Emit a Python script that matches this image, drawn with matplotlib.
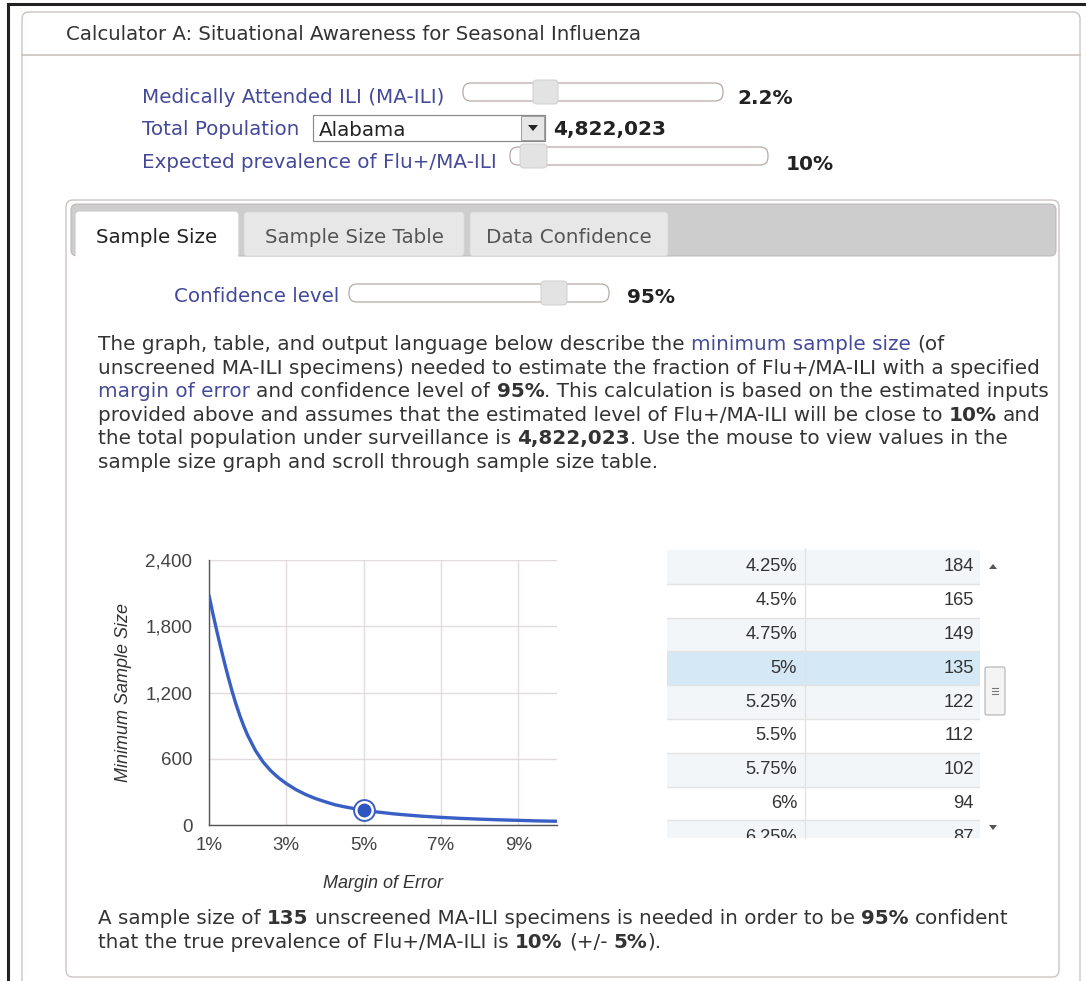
import matplotlib
matplotlib.use("Agg")
import matplotlib.pyplot as plt
from matplotlib.patches import FancyBboxPatch, Rectangle, Polygon
from matplotlib import ticker

# ---- data ----
margin_pct = [1.0, 1.1, 1.2, 1.3, 1.4, 1.5, 1.6, 1.7, 1.8, 1.9, 2.0, 2.2,
              2.4, 2.6, 2.8, 3.0, 3.25, 3.5, 3.75, 4.0, 4.25, 4.5, 4.75, 5.0,
              5.25, 5.5, 5.75, 6.0, 6.25, 6.5, 7.0, 7.5, 8.0, 8.5, 9.0, 9.5, 10.0]
min_sample = [2080, 1915, 1760, 1612, 1470, 1335, 1208, 1092, 988, 895, 812, 675,
              570, 490, 427, 375, 320, 276, 240, 211, 184, 165, 149, 135,
              122, 112, 102, 94, 87, 80, 69, 60, 53, 47, 42, 37, 34]
x_ticks = [1, 3, 5, 7, 9]
y_ticks = [0, 600, 1200, 1800, 2400]
chosen_margin = 5
chosen_size = 135

table_margin = ["4.25%", "4.5%", "4.75%", "5%", "5.25%", "5.5%", "5.75%", "6%", "6.25%"]
table_size = ["184", "165", "149", "135", "122", "112", "102", "94", "87"]
highlight_row = "5%"

tabs = ["Sample Size", "Sample Size Table", "Data Confidence"]

W, H = 1086, 981
fig = plt.figure(figsize=(W / 100, H / 100), dpi=100)
ui = fig.add_axes([0, 0, 1, 1])
ui.set_xlim(0, W)
ui.set_ylim(H, 0)
ui.axis("off")
rend = fig.canvas.get_renderer()

UI_FONT = "DejaVu Sans"
TXT = "#333333"
BLUE = "#44499a"
PX = 0.72  # points per pixel
FS = 14.3   # ui text size
FV = 14.5   # bold values


def rbox(x0, y0, x1, y1, fc, ec, r=6, lw=1.0, z=1):
    p = FancyBboxPatch((x0, y0), x1 - x0, y1 - y0,
                       boxstyle=f"round,pad=0,rounding_size={r}",
                       fc=fc, ec=ec, lw=lw * PX, zorder=z)
    ui.add_patch(p)
    return p


def width_of(s, size, weight="normal", family=UI_FONT):
    t = ui.text(0, 0, s, fontsize=size, fontweight=weight, family=family)
    w = t.get_window_extent(rend).width
    t.remove()
    return w


def runs(x, y, parts, size=FS, family=UI_FONT):
    # parts: (text, color, weight); y is the baseline
    sp = width_of("x x", size) - width_of("xx", size)
    for s, c, wgt in parts:
        if s.startswith(" "):
            x += sp
        core = s.strip()
        if core:
            t = ui.text(x, y, core, fontsize=size, color=c, fontweight=wgt,
                        family=family, va="baseline", zorder=5)
            x += t.get_window_extent(rend).width
        if s.endswith(" ") and len(s) > 1:
            x += sp
    return x


def slider(x0, x1, yc, hx, hw=25):
    rbox(x0, yc - 9, x1, yc + 9, "white", "#b3a7a3", r=8, lw=1.2, z=2)
    rbox(hx, yc - 12, hx + hw, yc + 12, "#e3e3e3", "#d0d0d0", r=4, lw=1, z=3)


# ---- frame and outer panel ----
ui.plot([8, W], [4, 4], color="#222222", lw=2.2, zorder=6)
ui.plot([8, 8], [4, H], color="#222222", lw=2.2, zorder=6)
rbox(22, 12, 1080, H + 20, "white", "#c9c1bd", r=7, lw=1.3)
ui.plot([22, 1080], [55, 55], color="#c9c1bd", lw=1.2)
runs(66, 40, [("Calculator A: Situational Awareness for Seasonal Influenza", TXT, "normal")], size=14.2)

# ---- inputs ----
runs(142, 103, [("Medically Attended ILI (MA-ILI)", BLUE, "normal")])
slider(463, 723, 92, 533)
runs(737, 104, [("2.2%", "#222222", "bold")], size=FV)

runs(142, 135, [("Total Population", BLUE, "normal")])
ui.add_patch(Rectangle((313, 115), 232, 26, fc="white", ec="#8a8a8a", lw=1.2 * PX, zorder=2))
ui.add_patch(Rectangle((521, 116), 23, 24, fc="#e6e6e6", ec="#a0a0a0", lw=1 * PX, zorder=3))
ui.add_patch(Polygon([[528, 125], [538, 125], [533, 131]], closed=True, fc="#222222", ec="none", zorder=4))
runs(319, 136, [("Alabama", "#222222", "normal")])
runs(553, 135, [("4,822,023", "#222222", "bold")], size=FV)

runs(142, 168, [("Expected prevalence of Flu+/MA-ILI", BLUE, "normal")])
slider(510, 768, 156, 520, 27)
runs(786, 170, [("10%", "#222222", "bold")], size=FV)

# ---- inner tab panel ----
rbox(66, 200, 1059, 977, "white", "#c9c1bd", r=7, lw=1.3)
rbox(71, 204, 1056, 256, "#cdcdcd", "#b8b8b8", r=6, lw=1.0, z=2)
tab_x = [(76, 238), (244, 464), (470, 668)]
for i, (label, (a, b)) in enumerate(zip(tabs, tab_x)):
    fc = "white" if i == 0 else "#e7e7e7"
    y1 = 262 if i == 0 else 256
    rbox(a, 212, b, y1, fc, "#d8d8d8" if i else "white", r=3, lw=0.8, z=3)
    ui.text((a + b) / 2, 243, label, fontsize=FS, family=UI_FONT, ha="center",
            va="baseline", color="#222222" if i == 0 else "#555555", zorder=5)

runs(174, 302, [("Confidence level", BLUE, "normal")])
slider(349, 609, 293, 541, 26)
runs(627, 303, [("95%", "#222222", "bold")], size=FV)

# ---- paragraph ----
para = [
    [("The graph, table, and output language below describe the ", TXT, "normal"),
     ("minimum sample size", BLUE, "normal"), (" (of", TXT, "normal")],
    [("unscreened MA-ILI specimens) needed to estimate the fraction of Flu+/MA-ILI with a specified", TXT, "normal")],
    [("margin of error", BLUE, "normal"), (" and confidence level of ", TXT, "normal"),
     ("95%", TXT, "bold"), (". This calculation is based on the estimated inputs", TXT, "normal")],
    [("provided above and assumes that the estimated level of Flu+/MA-ILI will be close to ", TXT, "normal"),
     ("10%", TXT, "bold"), (" and", TXT, "normal")],
    [("the total population under surveillance is ", TXT, "normal"), ("4,822,023", TXT, "bold"),
     (". Use the mouse to view values in the", TXT, "normal")],
    [("sample size graph and scroll through sample size table.", TXT, "normal")],
]
for k, line in enumerate(para):
    runs(98, 350 + k * 23.6, line, size=14.45)

summary = [
    [("A sample size of ", TXT, "normal"), ("135", TXT, "bold"),
     (" unscreened MA-ILI specimens is needed in order to be ", TXT, "normal"),
     ("95%", TXT, "bold"), (" confident", TXT, "normal")],
    [("that the true prevalence of Flu+/MA-ILI is ", TXT, "normal"), ("10%", TXT, "bold"),
     (" (+/- ", TXT, "normal"), ("5%", TXT, "bold"), (").", TXT, "normal")],
]
for k, line in enumerate(summary):
    runs(98, 924 + k * 24, line, size=14.3)

# ---- table ----
tx0, tx1, tdiv, ty0, rh = 667, 980, 805, 550, 33.8
clip = Rectangle((tx0, 548), tx1 - tx0, 290, transform=ui.transData)
for i, (m, n) in enumerate(zip(table_margin, table_size)):
    y0 = ty0 + i * rh
    fc = "#d4e8f6" if m == highlight_row else ("#f2f6f9" if i % 2 == 0 else "white")
    r = Rectangle((tx0, y0), tx1 - tx0, rh, fc=fc, ec="none", zorder=2)
    ui.add_patch(r)
    r.set_clip_path(clip)
    ln, = ui.plot([tx0, tx1], [y0 + rh, y0 + rh], color="#e3e3e3", lw=1.0, zorder=3)
    ln.set_clip_path(clip)
    for s, xr in ((m, 797), (n, 974)):
        t = ui.text(xr, y0 + rh / 2, s, fontsize=13.2, family="Liberation Sans", ha="right",
                    va="center", color="#333333", zorder=5, clip_on=True)
        t.set_clip_path(clip)
ui.plot([tdiv, tdiv], [548, 838], color="#e3e3e3", lw=1.0, zorder=3)
# scrollbar
ui.add_patch(Polygon([[989, 569], [997, 569], [993, 564]], closed=True, fc="#555555", ec="none", zorder=4))
ui.add_patch(Polygon([[989, 825], [997, 825], [993, 830]], closed=True, fc="#555555", ec="none", zorder=4))
rbox(985, 667, 1005, 715, "#f4f4f4", "#a9a9a9", r=2, lw=1, z=4)
for dy in (-3, 0, 3):
    ui.plot([992, 998], [691 + dy, 691 + dy], color="#777777", lw=0.8, zorder=5)

# ---- chart ----
L, R, T, B = 209, 557, 560, 825
ax = fig.add_axes([L / W, 1 - B / H, (R - L) / W, (B - T) / H])
ax.set_facecolor("white")
ax.plot(margin_pct, min_sample, color="#3a5fc4", lw=2.4, solid_joinstyle="round",
        solid_capstyle="round", zorder=3)
ax.plot([chosen_margin], [chosen_size], "o", ms=15, mfc="white", mec="#3a5fc4", mew=1.4, zorder=4)
ax.plot([chosen_margin], [chosen_size], "o", ms=9, mfc="#2f56c0", mec="#2f56c0", zorder=5)
ax.set_xlim(1, 10)
ax.set_ylim(0, 2400)
ax.set_xticks(x_ticks)
ax.set_yticks(y_ticks)
ax.xaxis.set_major_formatter(ticker.StrMethodFormatter("{x:.0f}%"))
ax.yaxis.set_major_formatter(ticker.StrMethodFormatter("{x:,.0f}"))
ax.grid(True, color="#e2dcdc", lw=1.0)
ax.set_axisbelow(True)
for s in ("top", "right"):
    ax.spines[s].set_visible(False)
for s in ("left", "bottom"):
    ax.spines[s].set_color("#555555")
    ax.spines[s].set_linewidth(1.0)
ax.tick_params(length=0, labelsize=13.5, labelcolor="#444444")
ax.tick_params(axis="x", pad=9)
ax.tick_params(axis="y", pad=12)
for lab in ax.get_xticklabels() + ax.get_yticklabels():
    lab.set_family("Liberation Sans")
ax.set_xlabel("Margin of Error", fontsize=13, style="italic", family="Liberation Sans", color="#333333")
ax.set_ylabel("Minimum Sample Size", fontsize=13, style="italic", family="Liberation Sans", color="#333333")
ax.xaxis.set_label_coords(0.5, -0.19)
ax.yaxis.set_label_coords(-0.22, 0.5)

fig.savefig("out.png", dpi=100, facecolor="white")
